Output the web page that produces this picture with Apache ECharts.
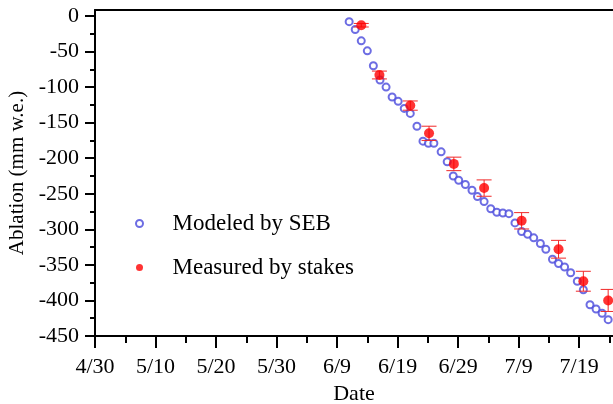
<!DOCTYPE html>
<html>
<head>
<meta charset="utf-8">
<script src="https://cdn.jsdelivr.net/npm/echarts@6/dist/echarts.min.js"></script>
<style>
html,body{margin:0;padding:0;background:#fff}
#view-chart{width:613px;height:404px}
</style>
</head>
<body>
<div id="view-chart"></div>
<script>
// days counted from 4/30 (day 0)
var dateLabels = ["4/30", "5/10", "5/20", "5/30", "6/9", "6/19", "6/29", "7/9", "7/19"];
var majorDays = [0, 10, 20, 30, 40, 50, 60, 70, 80];
var minorDays = [5, 15, 25, 35, 45, 55, 65, 75, 85];
var yTicks = [-450, -400, -350, -300, -250, -200, -150, -100, -50, 0];
var yMinor = [-425, -375, -325, -275, -225, -175, -125, -75, -25];

var modelDay = [42.0, 43.0, 44.0, 45.0, 46.0, 47.1, 48.1, 49.1, 50.1, 51.1, 52.1, 53.2, 54.2, 55.1, 56.0, 57.2, 58.2, 59.2, 60.1, 61.2, 62.3, 63.2, 64.3, 65.4, 66.4, 67.4, 68.4, 69.4, 70.5, 71.5, 72.5, 73.6, 74.5, 75.6, 76.6, 77.6, 78.6, 79.7, 80.7, 81.8, 82.8, 83.8, 84.8];
var modelVal = [-8, -19, -35, -49, -70, -90, -100, -114, -120, -130, -137, -155, -176, -179, -179, -191, -205, -225, -231, -237, -245, -254, -261, -271, -276, -277, -278, -291, -303, -307, -312, -320, -328, -342, -348, -353, -361, -373, -385, -406, -412, -418, -427];

var stakeDay = [44.0, 47.0, 52.1, 55.2, 59.3, 64.3, 70.5, 76.6, 80.7, 84.8];
var stakeVal = [-13, -83, -126, -165, -208, -242, -288, -328, -373, -400];
var stakeErr = [2.5, 5.5, 6.5, 10, 9.5, 11.5, 11.5, 12.5, 14, 15.5];

var font = "'Liberation Serif', 'Times New Roman', serif";
var xMax = 85.6, yMax = 8.4;

var modelData = modelDay.map(function(d, i) { return [d, modelVal[i]] });
var stakeData = stakeDay.map(function(d, i) { return [d, stakeVal[i]] });
var errData = stakeDay.map(function(d, i) { return [d, stakeVal[i], stakeErr[i]] });

var myChart = echarts.init(document.getElementById("view-chart"));
var option = {
	animation: false,
	backgroundColor: "#fff",
	textStyle: { fontFamily: font, color: "#000" },
	grid: { left: 95, right: 0, top: 10, bottom: 68, outerBoundsMode: "none", containLabel: false },
	legend: {
		orient: "vertical",
		left: 130,
		top: 207,
		itemWidth: 56,
		itemHeight: 7,
		itemGap: 21,
		textStyle: { fontFamily: font, fontSize: 23, color: "#000" },
		data: [{ name: "Modeled by SEB", icon: "emptyCircle" }, { name: "Measured by stakes", icon: "circle" }]
	},
	xAxis: [{
		type: "value", min: 0, max: xMax, position: "bottom",
		name: "Date", nameLocation: "middle", nameGap: 45,
		nameTextStyle: { fontFamily: font, fontSize: 22, color: "#000" },
		axisLine: { onZero: false, lineStyle: { color: "#000", width: 2 } },
		axisTick: { customValues: majorDays, length: 12, lineStyle: { color: "#000", width: 2 } },
		axisLabel: {
			customValues: majorDays, margin: 20, fontFamily: font, fontSize: 22, color: "#000",
			formatter: function(v) { return dateLabels[Math.round(v / 10)] }
		},
		splitLine: { show: false }
	}, {
		type: "value", min: 0, max: xMax, position: "top",
		axisLine: { onZero: false, lineStyle: { color: "#000", width: 2 } },
		axisTick: { show: false }, axisLabel: { show: false }, splitLine: { show: false }
	}, {
		type: "value", min: 0, max: xMax, position: "bottom",
		axisLine: { show: false, onZero: false },
		axisTick: { customValues: minorDays, length: 7, lineStyle: { color: "#000", width: 2 } },
		axisLabel: { show: false }, splitLine: { show: false }
	}],
	yAxis: [{
		type: "value", min: -450, max: yMax, position: "left",
		name: "Ablation (mm w.e.)", nameLocation: "middle", nameGap: 65,
		nameTextStyle: { fontFamily: font, fontSize: 21, color: "#000" },
		axisLine: { onZero: false, lineStyle: { color: "#000", width: 2 } },
		axisTick: { customValues: yTicks, length: 10, lineStyle: { color: "#000", width: 2 } },
		axisLabel: { customValues: yTicks, margin: 16, fontFamily: font, fontSize: 22, color: "#000" },
		splitLine: { show: false }
	}, {
		type: "value", min: -450, max: yMax, position: "left",
		axisLine: { show: false, onZero: false },
		axisTick: { customValues: yMinor, length: 5, lineStyle: { color: "#000", width: 2 } },
		axisLabel: { show: false }, splitLine: { show: false }
	}],
	series: [{
		name: "Modeled by SEB",
		type: "scatter",
		symbol: "emptyCircle",
		symbolSize: 7,
		itemStyle: { color: "#4848dc", borderWidth: 1 },
		data: modelData,
		z: 2
	}, {
		name: "err",
		type: "custom",
		data: errData,
		encode: { x: 0, y: 1 },
		z: 3,
		renderItem: function(params, api) {
			var x = api.value(0), v = api.value(1), e = api.value(2);
			var hi = api.coord([x, v + e]), lo = api.coord([x, v - e]);
			var st = { stroke: "#f02828", lineWidth: 1 };
			return {
				type: "group",
				children: [
					{ type: "line", shape: { x1: hi[0], y1: hi[1], x2: lo[0], y2: lo[1] }, style: st },
					{ type: "line", shape: { x1: hi[0] - 7.5, y1: hi[1], x2: hi[0] + 7.5, y2: hi[1] }, style: st },
					{ type: "line", shape: { x1: lo[0] - 7.5, y1: lo[1], x2: lo[0] + 7.5, y2: lo[1] }, style: st }
				]
			}
		}
	}, {
		name: "Measured by stakes",
		type: "scatter",
		symbol: "circle",
		symbolSize: 10,
		itemStyle: { color: "#ff0000" },
		data: stakeData,
		z: 4
	}]
};
myChart.setOption(option);
</script>
</body>
</html>
